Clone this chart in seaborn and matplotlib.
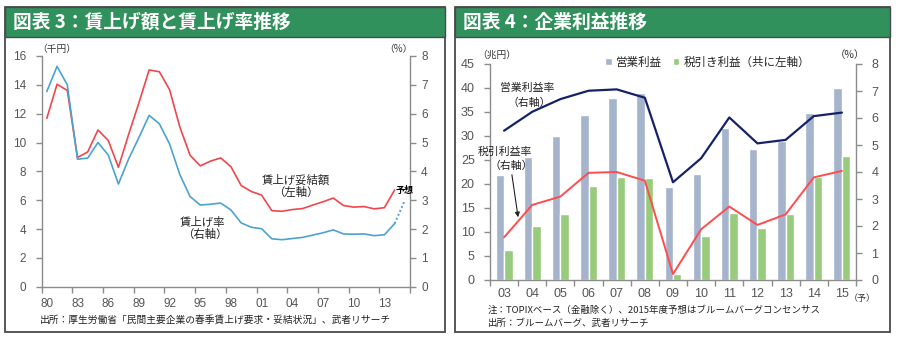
import numpy as np
import pandas as pd
import matplotlib
matplotlib.use("Agg")
import matplotlib.pyplot as plt
import seaborn as sns
from matplotlib.patches import Rectangle

sns.set_theme(style="white")
JP = ["Noto Sans CJK JP", "DejaVu Sans"]
NUM = ["Liberation Sans", "DejaVu Sans"]
plt.rcParams["font.family"] = JP

W, H = 900, 338

# ---- 図表3: wage increase amount (thousand yen) and rate (%) ----
years = list(range(1980, 2016))
year_ticklabels = ["80", "83", "86", "89", "92", "95", "98", "01", "04", "07", "10", "13"]
wage_amount = [11.68, 14.04, 13.61, 8.96, 9.35, 10.87, 10.15, 8.28, 10.57, 12.75,
               15.03, 14.91, 13.66, 11.08, 9.12, 8.38, 8.71, 8.93, 8.32, 7.01,
               6.60, 6.35, 5.27, 5.23, 5.35, 5.42, 5.66, 5.89, 6.15, 5.63,
               5.52, 5.56, 5.40, 5.48, 6.71]
wage_rate = [6.77, 7.64, 7.00, 4.42, 4.46, 5.00, 4.57, 3.56, 4.43, 5.17,
             5.94, 5.65, 4.95, 3.89, 3.13, 2.83, 2.86, 2.90, 2.66, 2.21,
             2.06, 2.01, 1.66, 1.63, 1.67, 1.71, 1.79, 1.87, 1.97, 1.83,
             1.82, 1.83, 1.77, 1.80, 2.19]
wage_rate_forecast = 3.0   # 2015 forecast

# ---- 図表4: corporate profits (trillion yen) and margins (%) ----
fiscal_years = ["03", "04", "05", "06", "07", "08", "09", "10", "11", "12", "13", "14", "15"]
operating_profit = [21.9, 25.7, 30.1, 34.4, 38.0, 38.9, 19.4, 22.1, 31.6, 27.2, 28.9, 34.7, 40.0]
net_profit = [6.2, 11.3, 13.7, 19.5, 21.5, 21.2, 1.2, 9.2, 14.0, 10.9, 13.7, 21.5, 25.8]
operating_margin = [5.53, 6.23, 6.70, 7.01, 7.06, 6.75, 3.62, 4.51, 6.02, 5.06, 5.19, 6.07, 6.20]
net_margin = [1.58, 2.78, 3.09, 3.97, 4.00, 3.68, 0.22, 1.88, 2.72, 2.04, 2.43, 3.80, 4.04]

GREEN_HDR = "#31915C"
FRAME = "#4a4a4a"
AXC = "#8c8c8c"
TICKC = "#555555"
RED = "#F0464C"
BLUE = "#4BA3CF"
NAVY = "#15226A"
RED2 = "#FF4C4C"
BAR_GRAY = "#A5B3CB"
BAR_GREEN = "#98CC7C"

fig = plt.figure(figsize=(W / 100, H / 100), dpi=100)
fig.patch.set_facecolor("white")


def rect(x0, y0, x1, y1):
    return [x0 / W, 1 - y1 / H, (x1 - x0) / W, (y1 - y0) / H]


def ftext(x, y, s, **kw):
    kw.setdefault("family", JP)
    return fig.text(x / W, 1 - y / H, s, **kw)


# panel frames and green title bars
for (x0, x1, title) in [(5, 445, "図表 3：賃上げ額と賃上げ率推移"),
                        (455, 890, "図表 4：企業利益推移")]:
    fig.patches.append(Rectangle((x0 / W, 1 - 332 / H), (x1 - x0) / W, (332 - 7) / H,
                                 transform=fig.transFigure, fill=False,
                                 edgecolor=FRAME, lw=1.3, zorder=0))
    fig.patches.append(Rectangle((x0 / W, 1 - 37 / H), (x1 - x0) / W, 30 / H,
                                 transform=fig.transFigure, facecolor=GREEN_HDR,
                                 edgecolor=FRAME, lw=1.0, zorder=1))
    ftext(x0 + 8, 22.5, title, color="white", fontsize=13.5, fontweight="bold",
          va="center", ha="left")


def style_axes(ax, ax2):
    for a in (ax, ax2):
        for s in ("top",):
            a.spines[s].set_visible(False)
        for s in ("left", "right", "bottom"):
            a.spines[s].set_color(AXC)
            a.spines[s].set_linewidth(1.0)
        a.set_facecolor("none")
        a.grid(False)
    ax.spines["right"].set_visible(False)
    ax2.spines["left"].set_visible(False)
    ax2.spines["bottom"].set_visible(False)


# ================= left chart =================
axL = fig.add_axes(rect(41.7, 56, 410, 286.7))
axL2 = axL.twinx()
style_axes(axL, axL2)

pos = np.arange(len(years))
dfL = pd.DataFrame({"pos": pos[:len(wage_amount)], "amount": wage_amount, "rate": wage_rate})
sns.lineplot(data=dfL, x="pos", y="amount", ax=axL, color=RED, lw=1.2)
sns.lineplot(data=dfL, x="pos", y="rate", ax=axL2, color=BLUE, lw=1.2)
dfF = pd.DataFrame({"pos": [pos[len(wage_rate) - 1], pos[-1]],
                    "rate": [wage_rate[-1], wage_rate_forecast]})
sns.lineplot(data=dfF, x="pos", y="rate", ax=axL2, color=BLUE, lw=1.4, ls=(0, (1, 1.2)))

axL.set_xlim(-0.5, len(years) - 0.5)
axL.set_ylim(0, 16)
axL2.set_ylim(0, 8)
axL.set_yticks(np.arange(0, 17, 2))
axL2.set_yticks(np.arange(0, 9, 1))
axL.set_xticks(pos[::3])
axL.set_xticklabels(year_ticklabels)
axL.set_xticks(np.arange(-0.5, len(years), 3), minor=True)
axL.tick_params(axis="x", which="major", length=0, pad=8, labelsize=8.5, labelcolor=TICKC)
axL.tick_params(axis="x", which="minor", length=4, color=AXC, width=1, direction="out", bottom=True)
axL.tick_params(axis="y", length=4, color=AXC, width=1, direction="out", pad=7,
                labelsize=8.5, labelcolor=TICKC, left=True)
axL2.tick_params(axis="y", length=4, color=AXC, width=1, direction="out", pad=4,
                 labelsize=8.5, labelcolor=TICKC, right=True)
for a in (axL, axL2):
    for lab in a.get_xticklabels() + a.get_yticklabels():
        lab.set_family(NUM)
axL.set_xlabel("")
axL.set_ylabel("")
axL2.set_ylabel("")

ftext(57, 49, "（千円）", fontsize=7, color="#333333", ha="center", va="center")
ftext(398, 49, "（%）", fontsize=7, color="#333333", ha="center", va="center")
ftext(296, 180, "賃上げ妥結額", fontsize=8.2, color="#222222", ha="center", va="center")
ftext(296, 192, "（左軸）", fontsize=8.2, color="#222222", ha="center", va="center")
ftext(203, 222, "賃上げ率", fontsize=8.2, color="#222222", ha="center", va="center")
ftext(205, 234, "（右軸）", fontsize=8.2, color="#222222", ha="center", va="center")
ftext(405, 191, "予想", fontsize=6.5, color="black", fontweight="bold", ha="center", va="center")
ftext(40, 320, "出所：厚生労働省「民間主要企業の春季賃上げ要求・妥結状況」、武者リサーチ",
      fontsize=7, color="#222222", ha="left", va="center")

# ================= right chart =================
axR = fig.add_axes(rect(490, 64, 856, 280))
axR2 = axR.twinx()
style_axes(axR, axR2)

lab_op = "営業利益"
lab_net = "税引き利益（共に左軸）"
dfBars = pd.DataFrame({
    "年度": fiscal_years * 2,
    "利益": operating_profit + net_profit,
    "系列": [lab_op] * len(fiscal_years) + [lab_net] * len(fiscal_years),
})
sns.barplot(data=dfBars, x="年度", y="利益", hue="系列", order=fiscal_years,
            hue_order=[lab_op, lab_net], palette=[BAR_GRAY, BAR_GREEN],
            width=0.6, saturation=1, ax=axR, errorbar=None)
sns.move_legend(axR, "upper left", bbox_to_anchor=((600 - 490) / 366, 1.06), ncol=2,
                frameon=False, title=None, handlelength=0.6, handleheight=0.6,
                handletextpad=0.4, columnspacing=0.9, fontsize=8.3, borderaxespad=0)

fpos = np.arange(len(fiscal_years))
dfM = pd.DataFrame({"pos": fpos, "op": operating_margin, "net": net_margin})
sns.lineplot(data=dfM, x="pos", y="op", ax=axR2, color=NAVY, lw=1.6)
sns.lineplot(data=dfM, x="pos", y="net", ax=axR2, color=RED2, lw=1.4)

axR.set_xlim(-0.5, len(fiscal_years) - 0.5)
axR2.set_xlim(-0.5, len(fiscal_years) - 0.5)
axR.set_ylim(0, 45)
axR2.set_ylim(0, 8)
axR.set_yticks(np.arange(0, 46, 5))
axR2.set_yticks(np.arange(0, 9, 1))
axR.set_xticks(fpos)
axR.set_xticklabels(fiscal_years)
axR.set_xticks(np.arange(-0.5, len(fiscal_years), 1), minor=True)
axR.tick_params(axis="x", which="major", length=0, pad=6, labelsize=9, labelcolor=TICKC)
axR.tick_params(axis="x", which="minor", length=4, color=AXC, width=1, direction="out", bottom=True)
axR.tick_params(axis="y", length=4, color=AXC, width=1, direction="out", pad=7,
                labelsize=9, labelcolor=TICKC, left=True)
axR2.tick_params(axis="y", length=4, color=AXC, width=1, direction="out", pad=7,
                 labelsize=9, labelcolor=TICKC, right=True)
for a in (axR, axR2):
    for lab in a.get_xticklabels() + a.get_yticklabels():
        lab.set_family(NUM)
axR.set_xlabel("")
axR.set_ylabel("")
axR2.set_ylabel("")

ftext(497, 55, "（兆円）", fontsize=7, color="#333333", ha="center", va="center")
ftext(850, 55, "（%）", fontsize=7.5, color="#333333", ha="center", va="center")
ftext(862, 298, "（予）", fontsize=6.5, color="#333333", ha="center", va="center")
ftext(527, 88, "営業利益率", fontsize=7.8, color="#222222", ha="center", va="center")
ftext(529, 103, "（右軸）", fontsize=7.8, color="#222222", ha="center", va="center")
ftext(505, 152, "税引利益率", fontsize=7.8, color="#222222", ha="center", va="center")
ftext(511, 166, "（右軸）", fontsize=7.8, color="#222222", ha="center", va="center")
fig.add_artist(matplotlib.patches.FancyArrowPatch(
    (511.5 / W, 1 - 172 / H), (518.5 / W, 1 - 220 / H), transform=fig.transFigure,
    arrowstyle="-|>", mutation_scale=7, color="#222222", lw=0.8))
ftext(488, 310, "注：TOPIXベース（金融除く）、2015年度予想はブルームバーグコンセンサス",
      fontsize=6.8, color="#222222", ha="left", va="center")
ftext(488, 323, "出所：ブルームバーグ、武者リサーチ",
      fontsize=6.8, color="#222222", ha="left", va="center")

fig.savefig("out.png", dpi=100, facecolor="white")
